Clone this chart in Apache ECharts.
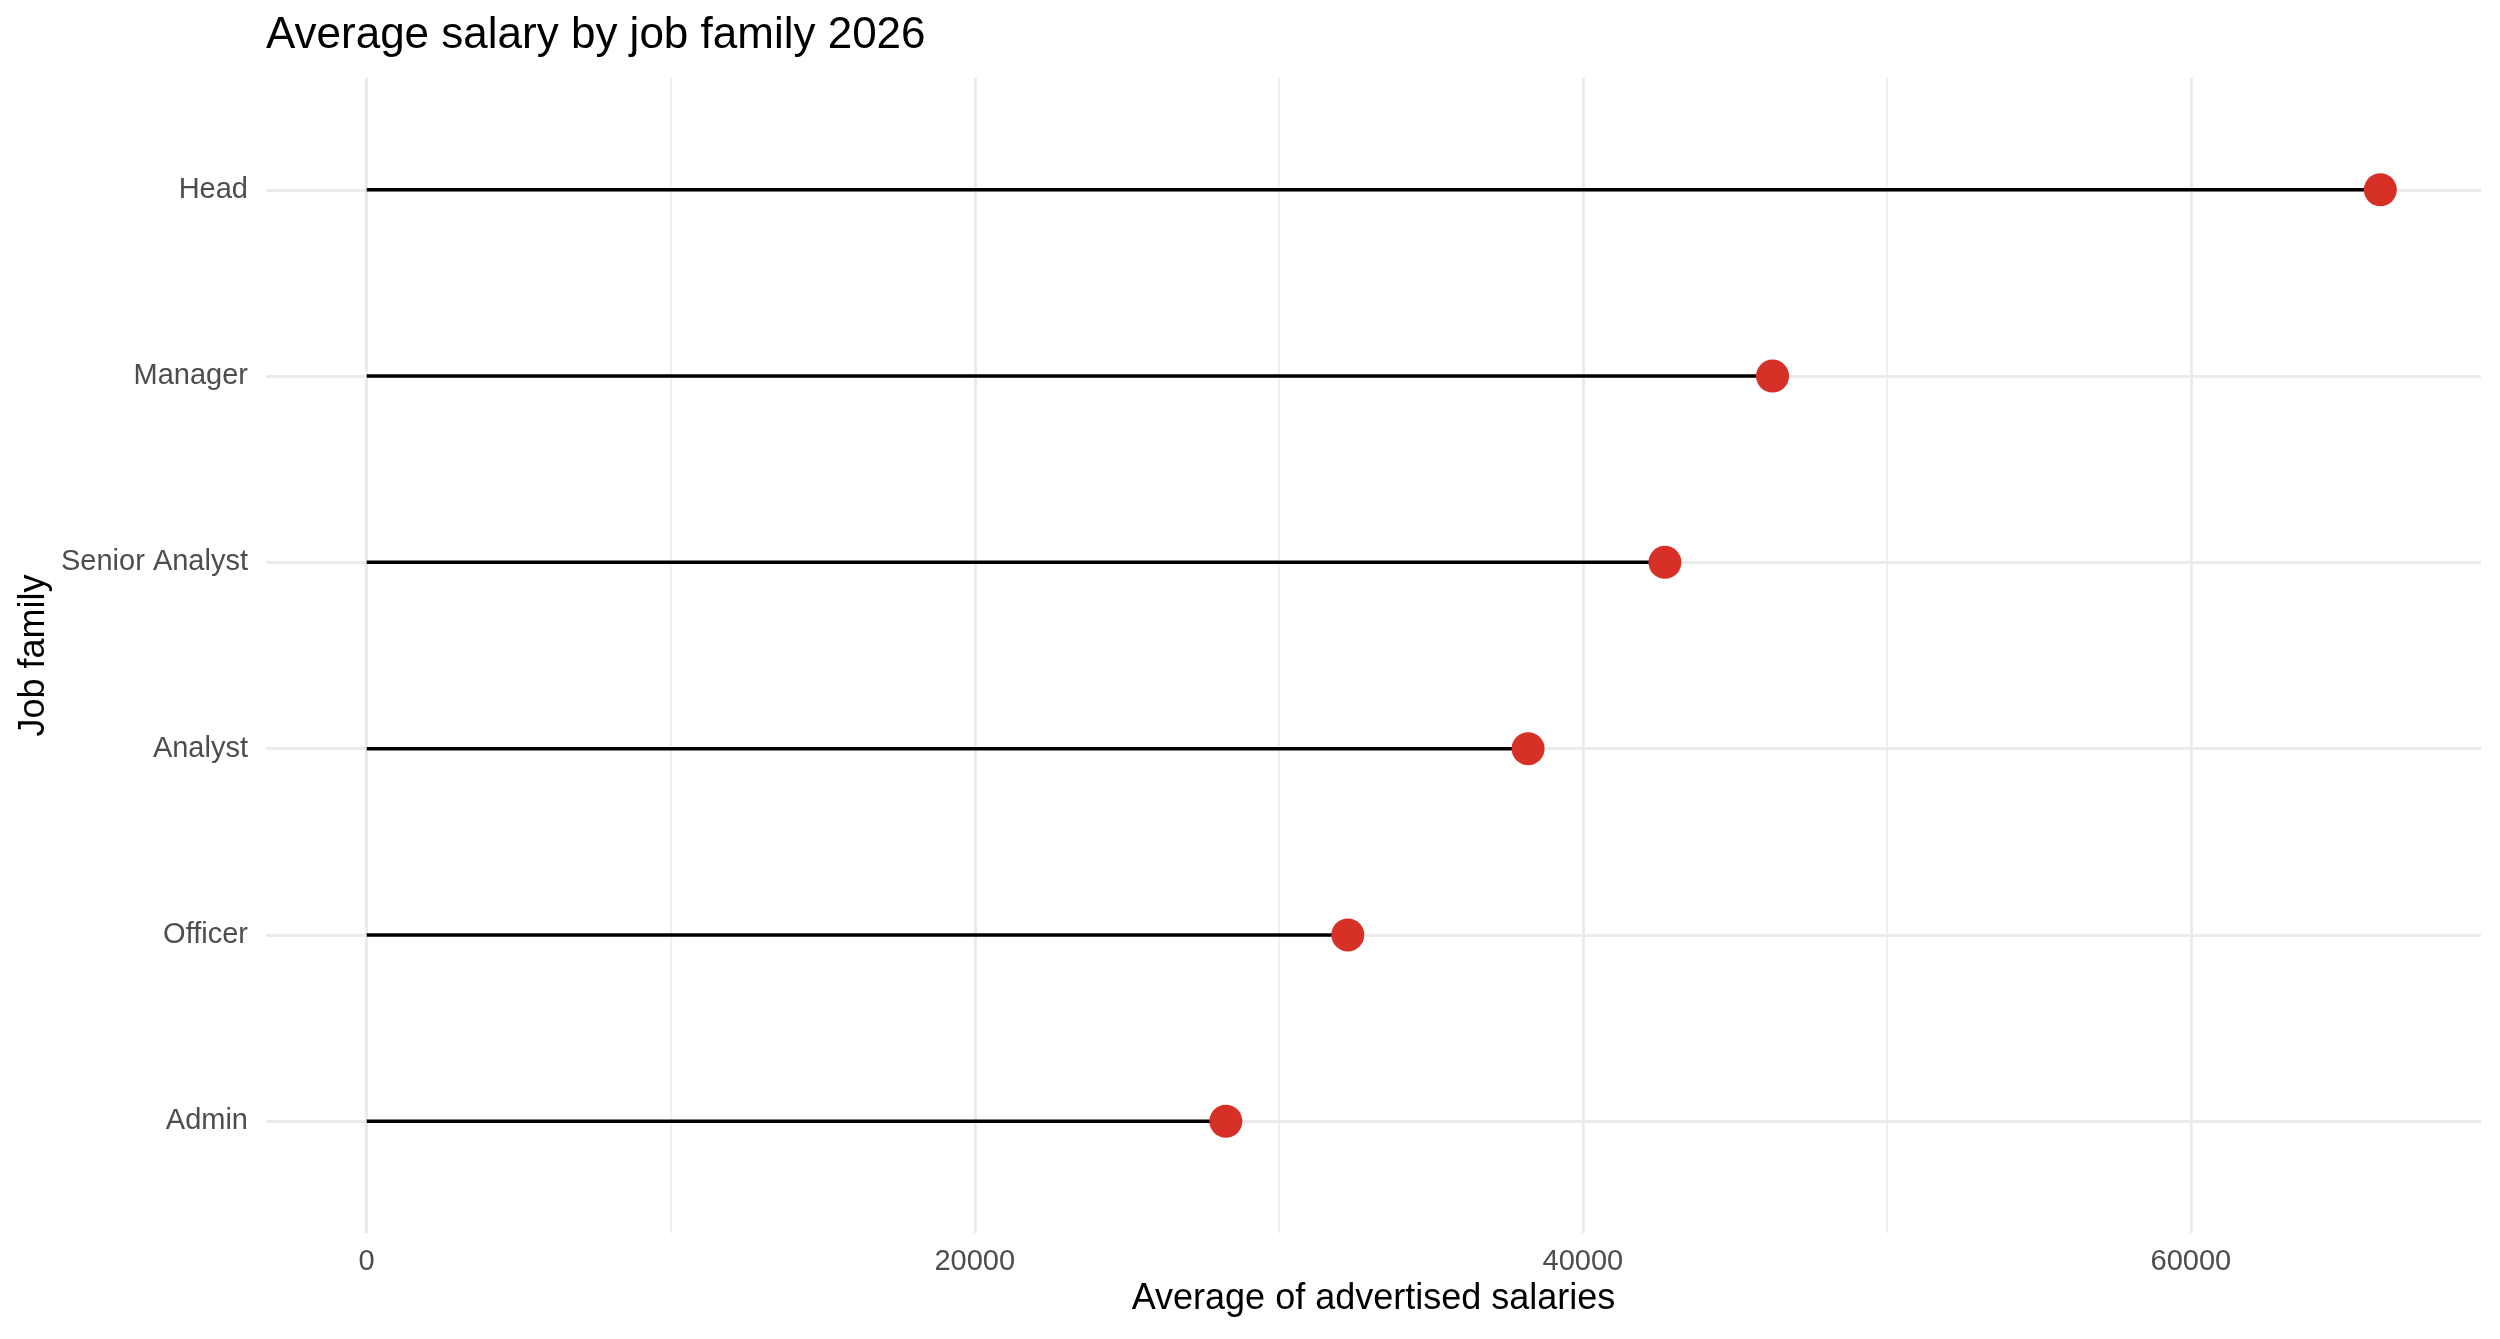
<!DOCTYPE html>
<html lang="en">
<head>
    <meta charset="UTF-8">
    <title>Average salary by job family 2026</title>
    <script src="https://cdn.jsdelivr.net/npm/echarts@6/dist/echarts.min.js"></script>
    <style>
        html, body { margin: 0; padding: 0; background: #fff; }
        #chart { width: 2500px; height: 1339px; }
    </style>
</head>
<body>
<div id="chart"></div>

<script>
    // data, bottom to top as on the chart
    var jobFamilies = ['Admin', 'Officer', 'Analyst', 'Senior Analyst', 'Manager', 'Head'];
    var avgSalaries = [28260, 32270, 38200, 42700, 46240, 66230];
    var xTicks = [0, 20000, 40000, 60000];

    var font = '"Liberation Sans", Arial, Helvetica, sans-serif';
    var gridColor = '#EBEBEB';
    var textGrey = '#4D4D4D';

    // panel in pixels, x range padded 5% like ggplot
    var panel = {left: 266, right: 2481, top: 78, bottom: 1233};
    var maxVal = Math.max.apply(null, avgSalaries);
    var xMin = -0.05 * maxVal;
    var xMax = 1.05 * maxVal;
    var pxPerUnit = (panel.right - panel.left) / (xMax - xMin);
    function px(v) {
        return panel.left + (v - xMin) * pxPerUnit;
    }
    var tickLo = xTicks[0], tickHi = xTicks[xTicks.length - 1];
    var majorStep = xTicks[1] - xTicks[0];
    var step = (panel.bottom - panel.top) / (jobFamilies.length + 0.2);
    var firstY = panel.top + 0.6 * step;
    var lastY = panel.bottom - 0.6 * step;

    var W = panel.right - panel.left;
    var H = panel.bottom - panel.top;
    var off = {show: false};

    var myChart = echarts.init(document.getElementById('chart'));
    var option = {
        animation: false,
        backgroundColor: '#fff',
        title: {
            text: 'Average salary by job family 2026',
            left: 266,
            top: 14,
            padding: 0,
            textStyle: {fontFamily: font, fontSize: 44, fontWeight: 'normal', color: '#000'}
        },
        grid: [
            {left: panel.left, width: W, top: panel.top, height: H},
            {left: px(tickLo), width: px(tickHi) - px(tickLo), top: panel.top, height: H},
            {left: px(tickLo), width: px(tickHi) - px(tickLo), top: panel.top, height: H},
            {left: panel.left, width: W, top: firstY, height: lastY - firstY}
        ],
        xAxis: [
            {
                gridIndex: 0, type: 'value', min: xMin, max: xMax,
                axisLine: off, axisTick: off, axisLabel: off, splitLine: off,
                name: 'Average of advertised salaries',
                nameLocation: 'middle',
                nameGap: 48,
                nameTextStyle: {fontFamily: font, fontSize: 36, color: '#000'}
            },
            {
                // minor vertical grid lines
                gridIndex: 1, type: 'value', min: tickLo, max: tickHi, interval: majorStep / 2,
                axisLine: off, axisTick: off, axisLabel: off,
                splitLine: {show: true, lineStyle: {color: gridColor, width: 1.5}}
            },
            {
                gridIndex: 2, type: 'value', min: tickLo, max: tickHi, interval: majorStep,
                axisLine: off, axisTick: off,
                axisLabel: {
                    margin: 14, fontFamily: font, fontSize: 29, color: textGrey,
                    formatter: function (v) { return String(v); }
                },
                splitLine: {show: true, lineStyle: {color: gridColor, width: 3}}
            },
            {gridIndex: 3, type: 'value', min: xMin, max: xMax, show: false}
        ],
        yAxis: [
            {
                gridIndex: 0, type: 'value', min: 0, max: 1,
                axisLine: off, axisTick: off, axisLabel: off, splitLine: off,
                name: 'Job family',
                nameLocation: 'middle',
                nameRotate: 90,
                nameGap: 214,
                nameTextStyle: {fontFamily: font, fontSize: 36, color: '#000'}
            },
            {gridIndex: 1, type: 'value', show: false},
            {gridIndex: 2, type: 'value', show: false},
            {
                gridIndex: 3, type: 'category', data: jobFamilies, boundaryGap: false,
                axisLine: off, axisTick: off,
                axisLabel: {margin: 18, fontFamily: font, fontSize: 29, color: textGrey},
                splitLine: {show: true, lineStyle: {color: gridColor, width: 3}}
            }
        ],
        series: [
            {
                // stick of the lollipop
                type: 'bar', xAxisIndex: 3, yAxisIndex: 3,
                data: avgSalaries,
                barWidth: 3.5,
                clip: false,
                silent: true,
                itemStyle: {color: '#000'}
            },
            {
                type: 'scatter', xAxisIndex: 3, yAxisIndex: 3,
                data: avgSalaries.map(function (v, i) { return [v, jobFamilies[i]]; }),
                symbolSize: 33,
                clip: false,
                itemStyle: {color: '#D73027', opacity: 1}
            }
        ]
    };
    myChart.setOption(option);
</script>

</body>
</html>
